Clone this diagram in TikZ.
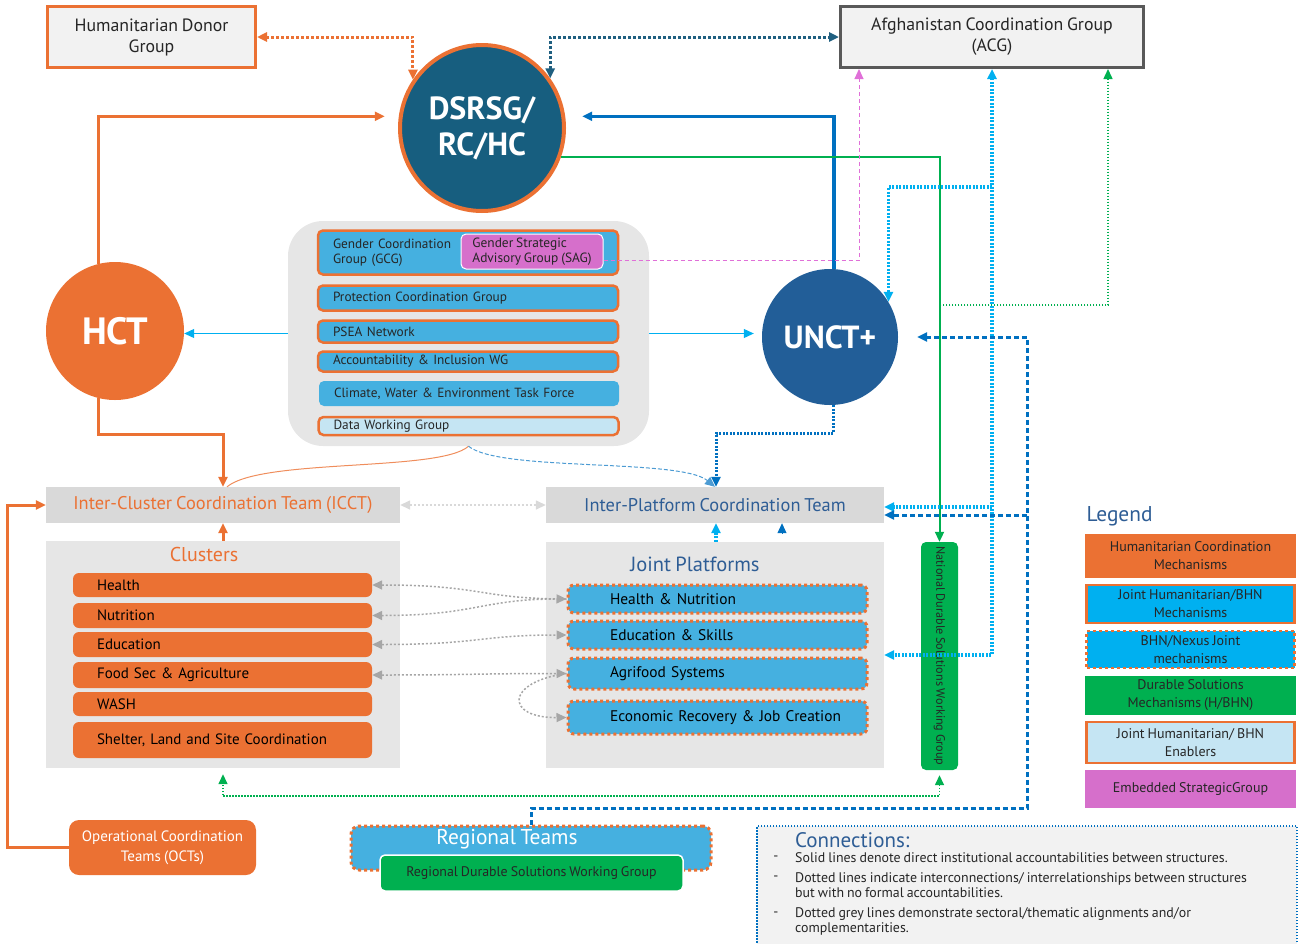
\documentclass[tikz,border=0pt]{standalone}
\usepackage{fontspec}
\setmainfont{PT Sans}[WordSpace=0.8]
\usetikzlibrary{arrows.meta,shapes.geometric}

\definecolor{hcorange}{HTML}{EB7133}
\definecolor{dsblue}{HTML}{175E7F}
\definecolor{unctblue}{HTML}{225E98}
\definecolor{jpblue}{HTML}{45B0E0}
\definecolor{cyanlink}{HTML}{00B0F0}
\definecolor{dsgreen}{HTML}{00B050}
\definecolor{sagpink}{HTML}{D66FCB}
\definecolor{enabler}{HTML}{C5E5F3}
\definecolor{panelgray}{HTML}{E6E6E6}
\definecolor{ctgray}{HTML}{D9D9D9}
\definecolor{palegray}{HTML}{F2F2F2}
\definecolor{acgline}{HTML}{595959}
\definecolor{titleblue}{HTML}{2E5D95}
\definecolor{linkblue}{HTML}{0070C0}
\definecolor{tealline}{HTML}{1F5F80}
\definecolor{pinklink}{HTML}{E070D8}
\definecolor{linkgray}{HTML}{A6A6A6}
\definecolor{txtdark}{HTML}{262626}

\newcommand{\fsz}[2]{\fontsize{#1pt}{#2pt}\selectfont}

\tikzset{
  topbox/.style={rectangle, fill=palegray, line width=3pt, minimum height=61pt, align=center, text=txtdark, font=\fsz{17.8}{21}},
  bigcircle/.style={circle, text=white, inner sep=0pt},
  panel/.style={rectangle, fill=panelgray},
  cobox/.style={rectangle, rounded corners=5pt, fill=jpblue, draw=hcorange, line width=2.5pt, text width=270pt, inner xsep=15pt, inner ysep=0pt, align=left, font=\fsz{13.3}{15.5}, text=txtdark},
  sagbox/.style={rectangle, rounded corners=5pt, fill=sagpink, draw=white, line width=1pt, minimum width=142pt, minimum height=35pt, inner xsep=0pt, inner ysep=0pt, align=left, font=\fsz{13.4}{15}, text=txtdark},
  ctbox/.style={rectangle, fill=ctgray, minimum height=36pt, font=\fsz{18.4}{21}},
  clbox/.style={rectangle, rounded corners=6pt, fill=hcorange, text width=251pt, inner xsep=24pt, inner ysep=0pt, align=left, font=\fsz{15}{18}, text=black},
  jpitem/.style={rectangle, rounded corners=6pt, fill=jpblue, draw=hcorange, line width=3pt, dash pattern=on 3pt off 3pt, text width=257pt, inner xsep=21pt, inner ysep=0pt, align=left, font=\fsz{15.4}{18}, text=black, execute at begin node={\hspace*{21pt}}},
  legbox/.style={rectangle, minimum width=211pt, align=center, font=\fsz{14}{18}, text=txtdark},
  conntext/.style={anchor=west, align=left, font=\fsz{13.9}{15}, text=txtdark, inner sep=0pt},
  % connectors
  orsolid/.style={draw=hcorange, line width=3pt},
  ordot/.style={draw=hcorange, line width=3pt, dash pattern=on 3pt off 2pt},
  tealdot/.style={draw=tealline, line width=3pt, dash pattern=on 3pt off 2pt},
  bluesolid/.style={draw=linkblue, line width=3.5pt},
  bluedash/.style={draw=linkblue, line width=3pt, dash pattern=on 5pt off 3pt},
  bluedot/.style={draw=linkblue, line width=3pt, dash pattern=on 2pt off 1.5pt},
  cyandot/.style={draw=cyanlink, line width=3.5pt, dash pattern=on 2pt off 1.5pt},
  cyanthin/.style={draw=cyanlink, line width=1pt},
  greensolid/.style={draw=dsgreen, line width=2pt},
  greendot/.style={draw=dsgreen, line width=1.5pt, dash pattern=on 1.5pt off 1.5pt},
  pinkdash/.style={draw=pinklink, line width=1pt, dash pattern=on 4pt off 3pt},
  graydot/.style={draw=linkgray, line width=1.5pt, dash pattern=on 2pt off 2pt},
  ltgraydot/.style={draw=ctgray, line width=1.5pt, dash pattern=on 2pt off 2pt},
}

\begin{document}
\begin{tikzpicture}[x=1pt, y=-1pt, >={Triangle[length=10pt,width=9pt]}]
\useasboundingbox (0,0) rectangle (1299,943);

% top row
\node[topbox, draw=hcorange, minimum width=208pt] (hdg) at (151.5,37) {Humanitarian Donor\\Group};
\node[topbox, draw=acgline, minimum width=303pt] (acg) at (992,37) {Afghanistan Coordination Group\\(ACG)};
\node[ellipse, fill=dsblue, draw=hcorange, line width=4pt, minimum width=164pt, minimum height=166pt, text=white, font=\bfseries\fsz{32}{36}, align=center] (dsrsg) at (482,128) {DSRSG/\\RC/HC};

% HCT and UNCT+
\node[bigcircle, fill=hcorange, minimum size=138pt, font=\bfseries\fsz{38}{40}] (hct) at (115,331) {HCT};
\node[bigcircle, fill=unctblue, minimum size=136pt, font=\bfseries\fsz{32}{34}] (unct) at (830,337) {UNCT+};

% joint mechanisms
\node[panel, rounded corners=35pt, minimum width=361pt, minimum height=225pt] (midbox) at (468.5,333.5) {};
\node[cobox, minimum height=44pt] (gcg) at (468,252.5) {Gender Coordination\\Group (GCG)};
\node[sagbox] (sag) at (532,251.5) {Gender Strategic\\Advisory Group (SAG)};
\node[cobox, minimum height=25pt] (pcg) at (468,298) {Protection Coordination Group};
\node[cobox, minimum height=22pt] (psea) at (468,331.5) {PSEA Network};
\node[cobox, minimum height=20pt] (aiwg) at (468,361.5) {Accountability \& Inclusion WG};
\node[cobox, draw=none, minimum height=25pt] (cwe) at (469,393.5) {Climate, Water \& Environment Task Force};
\node[cobox, fill=enabler, minimum height=18pt] (dwg) at (468.5,426) {Data Working Group};

% coordination teams
\node[ctbox, minimum width=354pt, text=hcorange] (icct) at (223,505) {Inter-Cluster Coordination Team (ICCT)};
\node[ctbox, minimum width=338pt, text=titleblue] (ipct) at (715,505) {Inter-Platform Coordination Team};

% clusters
\node[panel, minimum width=354pt, minimum height=227pt] (clusters) at (223,654.5) {};
\node[font=\fsz{20}{22}, text=hcorange] (clustitle) at (204,554) {Clusters};
\node[clbox, minimum height=24pt] (health) at (222.5,585) {Health};
\node[clbox, minimum height=25pt] (nutrition) at (222.5,615.5) {Nutrition};
\node[clbox, minimum height=25pt] (education) at (222.5,644.5) {Education};
\node[clbox, minimum height=26pt] (foodsec) at (222.5,675) {Food Sec \& Agriculture};
\node[clbox, minimum height=24pt] (wash) at (222.5,704) {WASH};
\node[clbox, minimum height=36pt] (shelter) at (222.5,740) {Shelter, Land and Site Coordination};

% joint platforms
\node[panel, minimum width=338pt, minimum height=226pt] (jp) at (715,655) {};
\node[font=\fsz{20.5}{22}, text=titleblue] (jptitle) at (695,564) {Joint Platforms};
\node[jpitem, minimum height=28pt] (hn) at (717.5,599) {Health \& Nutrition};
\node[jpitem, minimum height=28pt] (es) at (717.5,635) {Education \& Skills};
\node[jpitem, minimum height=31pt] (af) at (717.5,673.5) {Agrifood Systems};
\node[jpitem, minimum height=33pt] (er) at (717.5,717.5) {Economic Recovery \& Job Creation};

% durable solutions
\node[rectangle, rounded corners=5pt, fill=dsgreen, minimum width=37pt, minimum height=228pt] (ndswg) at (939.5,656) {};
\node[rotate=-90, font=\fsz{12.2}{14}, text=txtdark] (ndstext) at (ndswg.center) {National Durable Solutions Working Group};

% bottom row
\node[rectangle, rounded corners=10pt, fill=hcorange, minimum width=187pt, minimum height=55pt, align=center, text=white, font=\fsz{15}{20}] (octs) at (162.5,847.5) {Operational Coordination\\Teams (OCTs)};
\node[rectangle, rounded corners=8pt, fill=jpblue, draw=hcorange, line width=3pt, dash pattern=on 3pt off 3pt, minimum width=360pt, minimum height=44pt] (rt) at (531,848) {};
\node[text=white, font=\fsz{21.4}{23}] (rttitle) at (507,839) {Regional Teams};
\node[rectangle, rounded corners=5pt, fill=dsgreen, draw=white, line width=1.5pt, minimum width=303pt, minimum height=36pt, text=txtdark, font=\fsz{13.9}{15}] (rdswg) at (531.5,873) {Regional Durable Solutions Working Group};

% legend
\node[anchor=west, font=\fsz{21.4}{24}, text=titleblue] (legtitle) at (1083,516) {Legend};
\node[legbox, fill=hcorange, minimum height=44pt] (lg1) at (1190.5,556) {Humanitarian Coordination\\Mechanisms};
\node[legbox, fill=cyanlink, draw=hcorange, line width=2.5pt, minimum width=208pt, minimum height=38pt] (lg2) at (1190.5,604) {Joint Humanitarian/BHN\\Mechanisms};
\node[legbox, fill=cyanlink, draw=hcorange, line width=2.5pt, dash pattern=on 3pt off 3pt, minimum width=208pt, minimum height=37pt] (lg3) at (1190.5,649.5) {BHN/Nexus Joint\\mechanisms};
\node[legbox, fill=dsgreen, minimum height=39pt] (lg4) at (1190.5,695.5) {Durable Solutions\\Mechanisms (H/BHN)};
\node[legbox, fill=enabler, draw=hcorange, line width=2.5pt, minimum width=208pt, minimum height=41pt] (lg5) at (1190.5,742.5) {Joint Humanitarian/ BHN\\Enablers};
\node[legbox, fill=sagpink, minimum height=38pt] (lg6) at (1190.5,789) {Embedded StrategicGroup};

% connections note
\node[rectangle, fill=palegray, draw=linkblue, line width=1.5pt, dash pattern=on 1.5pt off 1.5pt, minimum width=540pt, minimum height=122pt] (conn) at (1027,887) {};
\node[anchor=west, inner sep=0pt, font=\fsz{21}{22}, text=titleblue] (conntitle) at (795,840) {Connections:};
\node[font=\fsz{14}{15}, text=txtdark] (d1) at (776,858) {-};
\node[conntext] (c1) at (795,858) {Solid lines denote direct institutional accountabilities between structures.};
\node[font=\fsz{14}{15}, text=txtdark] (d2) at (776,878) {-};
\node[conntext] (c2) at (795,885.5) {Dotted lines indicate interconnections/ interrelationships between structures\\but with no formal accountabilities.};
\node[font=\fsz{14}{15}, text=txtdark] (d3) at (776,914) {-};
\node[conntext] (c3) at (795,921.5) {Dotted grey lines demonstrate sectoral/thematic alignments and/or\\complementarities.};

% connectors
\draw[ordot, <->] (hdg.east) -| (dsrsg.145);
\draw[tealdot, <->] (dsrsg.36) |- (acg.west);
\draw[orsolid, ->] (hct.104) |- ([xshift=-14pt]dsrsg.172);
\draw[orsolid, ->] (hct.256) -- ++(0,36) -| (icct.north);
\draw[bluesolid, ->] ([xshift=4pt]unct.north) |- ([xshift=17pt]dsrsg.8);
\draw[greensolid, ->] (dsrsg.-20) -| (ndswg.north);
\draw[pinkdash, ->] ([yshift=-8.5pt]sag.east) -| ([xshift=20pt]acg.south west);
\draw[cyanthin, ->] (midbox.west) -- (midbox.west -| hct.east);
\draw[cyanthin, ->, shorten >=8pt] (midbox.east) -- (midbox.east -| unct.west);
\draw[draw=hcorange!80, line width=1pt] (midbox.south) .. controls (440,472) and (262,458) .. ([xshift=4pt]icct.north);
\draw[draw=linkblue!70, line width=1pt, dash pattern=on 4pt off 2pt, ->] (midbox.south) .. controls (500,472) and (680,458) .. (ipct.north);
% cyan links from ACG
\draw[cyandot, <->] (acg.south) |- (jp.east);
\draw[cyandot, ->] (acg.south |- 0,187) -| (unct.31);
\draw[cyandot, ->] (acg.south |- 0,507) -- ([yshift=-2pt]ipct.east);
% green links
\draw[greendot, <-] ([xshift=116pt]acg.south) |- (ndswg.north |- 0,305);
\draw[greendot, <->, shorten <=5pt, shorten >=6pt] (ndswg.south) -- ++(0,26) -| (clusters.south);
% blue links from UNCT+
\coordinate (bluecorner) at (1027,808);
\draw[bluedash, ->] (rt.north) |- (bluecorner) |- ([xshift=19pt]unct.east);
\draw[bluedash, ->] (bluecorner |- 0,515) -- ([yshift=-10pt]ipct.east);
\draw[bluedot, ->] ([xshift=3pt]unct.south) -- ++(0,28) -| ([xshift=1pt]ipct.north);
\draw[cyandot, ->] ([xshift=1pt]jp.north) -- ([xshift=1pt]ipct.south);
\draw[draw=linkblue, line width=1pt, ->] ([xshift=67pt,yshift=-10pt]ipct.south) -- ([xshift=67pt]ipct.south);
% ICCT links
\draw[orsolid, ->] (clusters.north) -- (icct.south);
\draw[ltgraydot, <->] (icct.east) -- (ipct.west);
\draw[orsolid, ->] (octs.west) -- ++(-61,0) |- (icct.west);
% sectoral alignments
\draw[graydot, <->] (health.east) .. controls (480,585) and (480,598) .. (hn.west);
\draw[graydot, ->] (hn.west) .. controls (480,598) and (480,615.5) .. (nutrition.east);
\draw[graydot, <->] (education.east) .. controls (480,644.5) and (480,635) .. (es.west);
\draw[graydot, <->] (foodsec.east) .. controls (470,675) and (480,673.5) .. (af.west);
\draw[graydot, ->] (af.west) .. controls (505,682) and (505,718) .. (er.west);
\end{tikzpicture}
\end{document}
